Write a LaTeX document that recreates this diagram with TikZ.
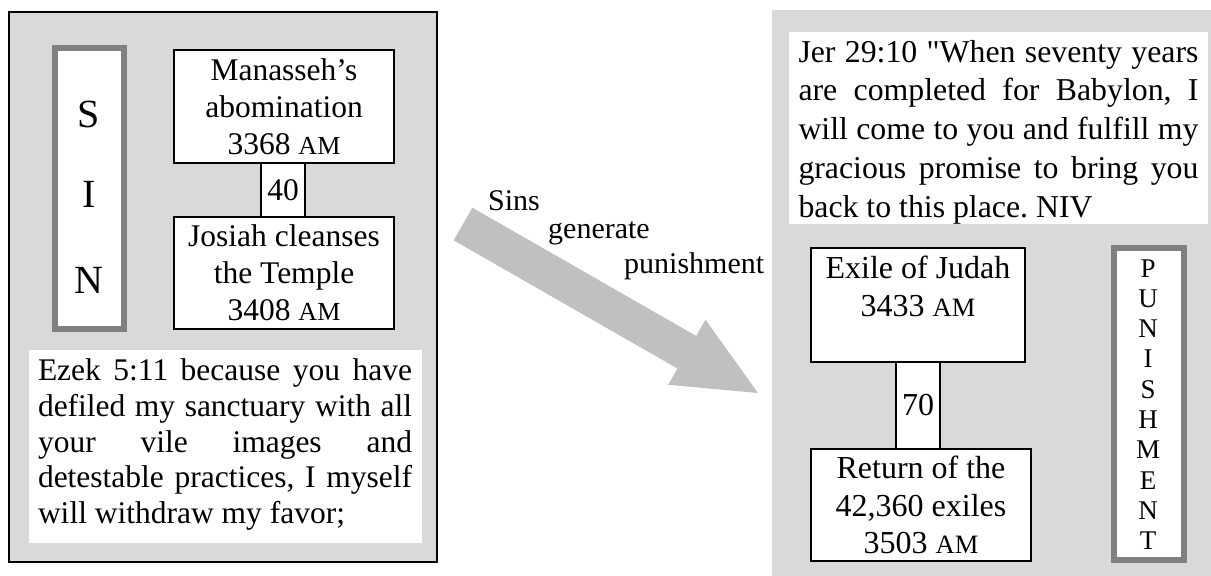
\documentclass[tikz,border=0pt]{standalone}
\usepackage{fontspec}
\setmainfont{Liberation Serif}
\newfontfamily\qfont{Liberation Serif}
\usetikzlibrary{calc}
\definecolor{panel}{HTML}{D9D9D9}
\definecolor{framegray}{HTML}{808080}
\definecolor{arrowgray}{HTML}{C0C0C0}
\newcommand\amL{{\fontsize{26}{30}\selectfont AM}}
\newcommand\amR{{\fontsize{26.5}{30}\selectfont AM}}
\frenchspacing
\begin{document}
\begin{tikzpicture}[x=1pt,y=-1pt,
  fontL/.style={font=\fontsize{31.5}{37}\selectfont},
  fontR/.style={font=\fontsize{32}{37.5}\selectfont},
  fontEz/.style={font=\fontsize{31.5}{35.8}\selectfont},
  fontJer/.style={font=\fontsize{31.8}{38.7}\selectfont},
  evbox/.style={draw=black, line width=1.4pt, fill=white, inner sep=0pt, align=center},
  lettframe/.style={draw=framegray, line width=6pt, fill=white, inner sep=0pt},
  whitebox/.style={fill=white, inner sep=0pt},
  plain/.style={inner sep=0pt},
  sinl/.style={plain, anchor=base, font=\fontsize{40}{40}\selectfont},
  punl/.style={plain, anchor=base, font=\fontsize{27}{27}\selectfont},
  arrlab/.style={plain, anchor=base west, font=\fontsize{30}{30}\selectfont}
]
\useasboundingbox (0,0) rectangle (1211,576);

% panels
\node[draw=black, line width=1.4pt, fill=panel, inner sep=0pt,
      minimum width=428pt, minimum height=550pt] (leftpanel) at (223,287) {};
\node[fill=panel, inner sep=0pt, minimum width=439pt, minimum height=566pt]
      (rightpanel) at (991.5,293) {};

% big arrow
\coordinate (tail) at (463,224);
\coordinate (tip) at (758,393);
\coordinate (hb) at ($(tip)!82pt!(tail)$);
\fill[arrowgray]
  ($(tail)!18.8pt!90:(tip)$) -- ($(hb)!18.8pt!90:(tip)$) -- ($(hb)!37.5pt!90:(tip)$)
  -- (tip) -- ($(hb)!37.5pt!-90:(tip)$) -- ($(hb)!18.8pt!-90:(tip)$)
  -- ($(tail)!18.8pt!-90:(tip)$) -- cycle;
\node[arrlab] (sins) at (488,210) {Sins};
\node[arrlab] (gen) at (548,238) {generate};
\node[arrlab] (pun) at (624,273) {punishment};

% SIN frame
\node[lettframe, minimum width=69pt, minimum height=281pt] (sinframe) at (89.5,188.5) {};
\node[sinl] (ls) at (89,127) {S};
\node[sinl] (li) at (89,207) {I};
\node[sinl] (ln) at (89,293) {N};

% left event boxes
\node[evbox, fontL, minimum width=220pt, minimum height=113pt] (man) at (284,106.5)
  {Manasseh’s\\abomination\\3368 \amL};
\node[evbox, fontL, minimum width=220pt, minimum height=112pt] (jos) at (284,273)
  {Josiah cleanses\\the Temple\\3408 \amL};
\node[evbox, fontL, minimum width=44pt, minimum height=54pt] (y40) at (283,190) {40};

% Ezekiel verse
\node[whitebox, minimum width=393pt, minimum height=193pt] (ezekbox) at (225.5,446.5) {};
\node[plain, fontEz, text width=374pt, align=justify] (ezek) at (225,444.5)
  {Ezek 5:11 because you have\linebreak defiled my sanctuary with all\linebreak
   your vile images and\linebreak detestable practices, I myself\linebreak
   will withdraw my favor;};

% Jeremiah verse
\node[whitebox, minimum width=419pt, minimum height=192pt] (jerbox) at (998.5,128) {};
\node[plain, fontJer, text width=400pt, align=justify] (jer) at (998.5,132)
  {Jer 29:10 {\qfont"}When seventy years\linebreak are completed for Babylon, I\linebreak
   will come to you and fulfill my\linebreak gracious promise to bring you\linebreak
   back to this place. NIV};

% right event boxes
\node[evbox, fontR, minimum width=214pt, minimum height=114pt] (exile) at (918,305)
  {Exile of Judah\\3433 \amR\\\mbox{}};
\node[evbox, fontR, minimum width=220pt, minimum height=112pt] (ret) at (921,505)
  {Return of the\\42,360 exiles\\3503 \amR};
\node[evbox, fontR, minimum width=44pt, minimum height=87pt] (y70) at (918,405.5) {70};

% PUNISHMENT frame
\node[lettframe, minimum width=70pt, minimum height=312pt] (punframe) at (1149,404) {};
\foreach \l [count=\i from 0] in {P,U,N,I,S,H,M,E,N,T}
  \node[punl] (pl\i) at (1148,{277+30.3*\i}) {\l};
\end{tikzpicture}
\end{document}
